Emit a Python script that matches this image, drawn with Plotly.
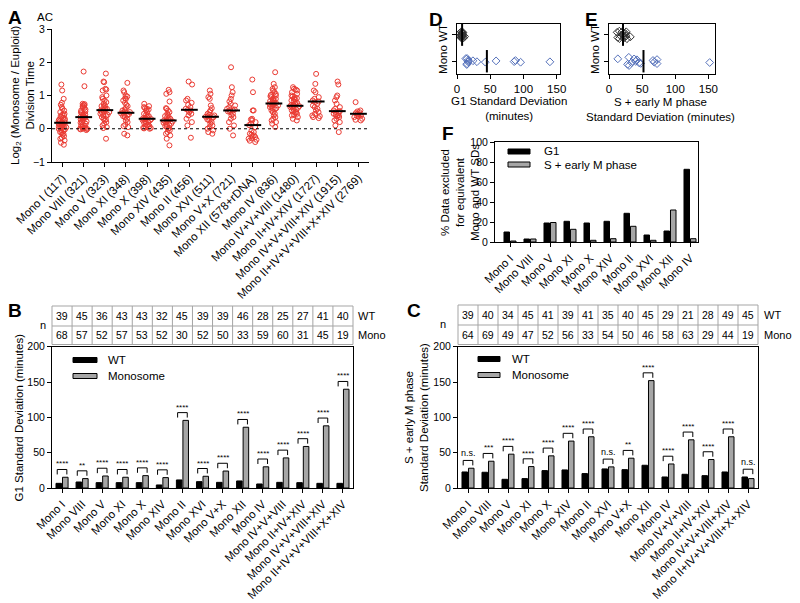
import numpy as np
import plotly.graph_objects as go

# ---------------- data ----------------
a_categories = ["Mono I (117)", "Mono VIII (321)", "Mono V (323)", "Mono XI (348)", "Mono X (398)",
                "Mono XIV (435)", "Mono II (456)", "Mono XVI (511)", "Mono V+X (721)",
                "Mono XII (578+rDNA)", "Mono IV (836)", "Mono IV+V+VIII (1480)",
                "Mono II+IV+XIV (1727)", "Mono IV+V+VIII+XIV (1915)", "Mono II+IV+V+VIII+X+XIV (2769)"]

mono_I = [1.33, 1.15, 0.9, 0.78, 0.72, 0.65, 0.6, 0.55, 0.5, 0.45, 0.42, 0.4, 0.38, 0.35, 0.33, 0.3,
          0.28, 0.26, 0.24, 0.22, 0.2, 0.19, 0.18, 0.17, 0.16, 0.15, 0.13, 0.12, 0.1, 0.08, 0.07, 0.05,
          0.04, 0.02, 0.0, -0.02, -0.04, -0.06, -0.1, -0.12, -0.15, -0.18, -0.22, -0.27, -0.3, -0.35,
          -0.42, -0.48]
mono_VIII = [1.72, 1.28, 0.75, 0.74, 0.72, 0.7, 0.68, 0.65, 0.62, 0.58, 0.55, 0.52, 0.5, 0.47, 0.45,
             0.42, 0.4, 0.38, 0.36, 0.35, 0.34, 0.33, 0.32, 0.3, 0.28, 0.25, 0.22, 0.2, 0.18, 0.15, 0.12,
             0.1, 0.08, 0.06, 0.04, 0.02, 0.01, 0.0, 0.0, -0.01, -0.02, -0.04]
mono_V = [1.66, 1.42, 1.4, 1.2, 1.18, 1.15, 1.0, 0.95, 0.9, 0.85, 0.8, 0.75, 0.7, 0.68, 0.65, 0.62,
          0.6, 0.58, 0.56, 0.55, 0.53, 0.5, 0.48, 0.45, 0.42, 0.4, 0.38, 0.35, 0.3, 0.28, 0.25, 0.2,
          0.15, 0.1, 0.05, 0.02, -0.3]
mono_XI = [1.38, 1.15, 1.1, 1.0, 0.97, 0.92, 0.9, 0.85, 0.78, 0.72, 0.68, 0.62, 0.58, 0.55, 0.52, 0.5,
           0.48, 0.46, 0.44, 0.42, 0.4, 0.38, 0.35, 0.3, 0.25, 0.2, 0.12, 0.08, 0.05, -0.15, -0.2]
mono_X = [0.75, 0.68, 0.65, 0.62, 0.6, 0.58, 0.55, 0.5, 0.45, 0.42, 0.4, 0.38, 0.35, 0.33, 0.31, 0.3,
          0.29, 0.28, 0.26, 0.25, 0.22, 0.2, 0.18, 0.15, 0.12, 0.1, 0.08, 0.05, 0.03, 0.02, 0.01, 0.0]
mono_XIV = [1.17, 1.1, 1.05, 0.82, 0.62, 0.6, 0.55, 0.5, 0.45, 0.4, 0.38, 0.35, 0.32, 0.3, 0.28, 0.26,
            0.25, 0.24, 0.22, 0.2, 0.18, 0.15, 0.12, 0.1, 0.08, 0.05, 0.02, 0.0, -0.05, -0.1, -0.15,
            -0.2, -0.3, -0.5]
mono_II = [1.42, 1.33, 0.9, 0.85, 0.78, 0.72, 0.65, 0.6, 0.57, 0.55, 0.5, 0.45, 0.4, 0.3, 0.2, 0.1, -0.27]
mono_XVI = [1.15, 1.05, 0.95, 0.9, 0.7, 0.62, 0.55, 0.5, 0.45, 0.42, 0.4, 0.38, 0.36, 0.35, 0.33, 0.3,
            0.28, 0.25, 0.2, 0.15, 0.1, 0.05, 0.0, -0.05, -0.1, -0.15]
mono_V_X = [1.85, 1.25, 1.1, 1.0, 0.9, 0.82, 0.75, 0.7, 0.65, 0.6, 0.58, 0.56, 0.55, 0.52, 0.5, 0.45,
            0.4, 0.35, 0.3, 0.2, 0.1, 0.0, -0.2]
mono_XII = [1.48, 1.1, 0.55, 0.55, 0.3, 0.28, 0.25, 0.2, 0.15, 0.11, 0.05, -0.05, -0.1, -0.15, -0.18,
            -0.2, -0.22, -0.25, -0.28, -0.3, -0.33, -0.36, -0.4]
mono_IV = [1.7, 1.35, 1.25, 1.2, 1.15, 1.1, 1.05, 1.02, 1.0, 0.98, 0.95, 0.92, 0.9, 0.88, 0.85, 0.83,
           0.8, 0.78, 0.77, 0.76, 0.75, 0.74, 0.72, 0.7, 0.68, 0.65, 0.62, 0.6, 0.58, 0.55, 0.5, 0.45,
           0.4, 0.35, 0.3, 0.25, 0.2, 0.15, 0.05]
mono_IV_V_VIII = [1.25, 1.2, 1.18, 1.15, 1.1, 1.05, 1.0, 0.97, 0.95, 0.92, 0.9, 0.88, 0.85, 0.82, 0.8,
                  0.78, 0.75, 0.72, 0.7, 0.69, 0.68, 0.66, 0.65, 0.63, 0.6, 0.58, 0.55, 0.52, 0.5, 0.48,
                  0.45, 0.42, 0.4, 0.35, 0.3, 0.25]
mono_II_IV_XIV = [1.65, 1.35, 1.15, 1.1, 0.95, 0.9, 0.85, 0.82, 0.8, 0.75, 0.7, 0.65, 0.6, 0.55, 0.5,
                  0.45, 0.4, 0.38, 0.35, 0.32]
mono_IV_V_VIII_XIV = [1.42, 1.33, 1.0, 0.95, 0.85, 0.75, 0.65, 0.6, 0.55, 0.53, 0.5, 0.47, 0.45, 0.42,
                      0.4, 0.38, 0.35, 0.3, 0.25, 0.2, 0.1, -0.1]
mono_II_IV_V_VIII_X_XIV = [0.8, 0.55, 0.52, 0.5, 0.47, 0.45, 0.43, 0.42, 0.4, 0.38, 0.35, 0.3, 0.27, 0.25]

a_values = [mono_I, mono_VIII, mono_V, mono_XI, mono_X, mono_XIV, mono_II, mono_XVI, mono_V_X,
            mono_XII, mono_IV, mono_IV_V_VIII, mono_II_IV_XIV, mono_IV_V_VIII_XIV, mono_II_IV_V_VIII_X_XIV]
a_centers = [0.18, 0.35, 0.56, 0.48, 0.30, 0.25, 0.57, 0.36, 0.55, 0.11, 0.76, 0.69, 0.82, 0.53, 0.45]
ac_counts = [0, 0, 0, 0, 0, 3, 2, 0, 0, 12, 4, 2, 2, 24, 8]

bc_categories = ["Mono I", "Mono VIII", "Mono V", "Mono XI", "Mono X", "Mono XIV", "Mono II",
                 "Mono XVI", "Mono V+X", "Mono XII", "Mono IV", "Mono IV+V+VIII", "Mono II+IV+XIV",
                 "Mono IV+V+VIII+XIV", "Mono II+IV+V+VIII+X+XIV"]
b_wt_sd = [6.6, 8.5, 7.6, 7.6, 7.6, 4.3, 11.4, 9.0, 8.0, 10.0, 5.7, 8.0, 7.6, 6.6, 6.6]
b_mono_sd = [15.2, 13.3, 17.0, 15.2, 17.5, 14.7, 95.7, 16.6, 24.0, 86.0, 30.0, 42.6, 58.8, 88.0, 139.8]
b_sig = ["****", "**", "****", "****", "****", "****", "****", "****", "****", "****", "****",
         "****", "****", "****", "****"]
b_n_wt = [39, 45, 36, 43, 43, 32, 45, 39, 39, 46, 28, 25, 27, 41, 40]
b_n_mono = [68, 57, 52, 57, 53, 52, 30, 52, 50, 33, 59, 60, 31, 45, 19]

c_wt_sd = [22.7, 22.3, 12.3, 13.3, 24.6, 25.6, 20.4, 27.0, 26.0, 32.2, 15.6, 19.4, 17.5, 22.7, 15.6]
c_mono_sd = [28.0, 37.9, 47.9, 30.3, 45.5, 66.4, 72.5, 29.9, 42.2, 152.0, 34.0, 68.2, 40.3, 72.5, 13.3]
c_sig = ["n.s.", "***", "****", "****", "****", "****", "****", "n.s.", "**", "****", "****",
         "****", "****", "****", "n.s."]
c_n_wt = [39, 40, 34, 45, 41, 39, 41, 35, 40, 45, 29, 21, 28, 49, 45]
c_n_mono = [64, 69, 49, 47, 52, 56, 33, 54, 50, 46, 58, 63, 29, 44, 19]

f_categories = ["Mono I", "Mono VIII", "Mono V", "Mono XI", "Mono X", "Mono XIV", "Mono II",
                "Mono XVI", "Mono XII", "Mono IV"]
f_g1 = [10.0, 3.0, 19.0, 20.7, 19.0, 20.7, 28.7, 7.0, 11.0, 72.7]
f_sm = [1.0, 3.0, 19.5, 12.7, 1.7, 3.3, 15.7, 1.7, 32.0, 3.3]

# ---------------- style / layout helpers ----------------
W, H = 800, 603
OFF = 8  # the page body margin shifts the whole figure by 8 px
FONT = "Arial, Liberation Sans, sans-serif"
RED = "rgb(234,58,50)"
GREY = "rgb(166,166,166)"
BLUE = "rgb(84,112,186)"
DARK = "rgb(50,50,50)"
TLINE = "rgb(165,165,165)"


def px(p):
    return (p - OFF) / W


def py(p):
    return 1 - (p - OFF) / H


dom = {
    "A": ([px(52), px(369)], [py(162), py(29)]),
    "D": ([px(457), px(560)], [py(74), py(24)]),
    "E": ([px(609), px(715)], [py(74), py(24)]),
    "F": ([px(495), px(698)], [py(242), py(142)]),
    "B": ([px(52), px(353)], [py(488), py(346.7)]),
    "C": ([px(458), px(758)], [py(488), py(346.7)]),
}


def ax(**kw):
    base = dict(showline=True, linecolor="black", linewidth=1, ticks="outside", ticklen=4,
                tickwidth=1, tickcolor="black", showgrid=False, zeroline=False, automargin=False,
                tickfont=dict(family=FONT, size=10.5, color="black"))
    base.update(kw)
    return base


fig = go.Figure()

# ---------------- Panel A ----------------
a_pos = list(range(len(a_categories)))
for i, vals in enumerate(a_values):
    fig.add_trace(go.Box(x=[a_pos[i]] * len(vals), y=vals, xaxis="x", yaxis="y",
                         boxpoints="all", jitter=0.95, pointpos=0,
                         fillcolor="rgba(0,0,0,0)", line=dict(color="rgba(0,0,0,0)", width=0),
                         marker=dict(symbol="circle-open", size=5, color=RED,
                                     line=dict(width=1, color=RED)),
                         showlegend=False, hoverinfo="y"))
fig.add_trace(go.Scatter(x=a_pos, y=a_centers, xaxis="x", yaxis="y", mode="markers",
                         marker=dict(symbol="line-ew", size=12, line=dict(width=2, color="black")),
                         showlegend=False, hoverinfo="skip"))
# AC counts drawn as little grids of grey circles above the panel
ac_x, ac_y = [], []
dx, dy, base_y = 0.15, 0.096, 3.33
for i, n in enumerate(ac_counts):
    if n == 0:
        continue
    rows = int(np.ceil(n / 4))
    for j in range(n):
        r, c = divmod(j, 4)
        in_row = min(4, n - r * 4)
        ac_x.append(a_pos[i] + (c - (in_row - 1) / 2) * dx)
        ac_y.append(base_y + (r - (rows - 1) / 2) * dy)
fig.add_trace(go.Scatter(x=ac_x, y=ac_y, xaxis="x", yaxis="y", mode="markers", cliponaxis=False,
                         marker=dict(symbol="circle-open", size=4, color="rgb(120,120,120)",
                                     line=dict(width=1, color="rgb(120,120,120)")),
                         showlegend=False, hoverinfo="skip"))

# ---------------- Panels D & E ----------------
for xa, ya, wt, mono in (("x2", "y2", b_wt_sd, b_mono_sd), ("x3", "y3", c_wt_sd, c_mono_sd)):
    fig.add_trace(go.Box(x=wt, y=[1] * len(wt), orientation="h", xaxis=xa, yaxis=ya,
                         boxpoints="all", jitter=0.8, pointpos=0,
                         fillcolor="rgba(0,0,0,0)", line=dict(color="rgba(0,0,0,0)", width=0),
                         marker=dict(symbol="diamond-open", size=6, color=DARK,
                                     line=dict(width=1, color=DARK)),
                         showlegend=False, hoverinfo="x"))
    fig.add_trace(go.Box(x=mono, y=[0] * len(mono), orientation="h", xaxis=xa, yaxis=ya,
                         boxpoints="all", jitter=0.8, pointpos=0,
                         fillcolor="rgba(0,0,0,0)", line=dict(color="rgba(0,0,0,0)", width=0),
                         marker=dict(symbol="diamond-open", size=6, color=BLUE,
                                     line=dict(width=1, color=BLUE)),
                         showlegend=False, hoverinfo="x"))
    fig.add_trace(go.Scatter(x=[np.mean(wt), np.mean(mono)], y=[1, 0], xaxis=xa, yaxis=ya,
                             mode="markers",
                             marker=dict(symbol="line-ns", size=16, line=dict(width=2, color="black")),
                             showlegend=False, hoverinfo="skip"))

# ---------------- Panel F ----------------
f_pos = list(range(len(f_categories)))
fig.add_trace(go.Bar(x=f_pos, y=f_g1, xaxis="x4", yaxis="y4", marker=dict(color="black",
                     line=dict(color="black", width=1)), showlegend=False))
fig.add_trace(go.Bar(x=f_pos, y=f_sm, xaxis="x4", yaxis="y4", marker=dict(color=GREY,
                     line=dict(color="black", width=1)), showlegend=False))

# ---------------- Panels B & C ----------------
bc_pos = list(range(len(bc_categories)))
for xa, ya, wt, mono, sig in (("x5", "y5", b_wt_sd, b_mono_sd, b_sig),
                              ("x6", "y6", c_wt_sd, c_mono_sd, c_sig)):
    fig.add_trace(go.Bar(x=bc_pos, y=wt, xaxis=xa, yaxis=ya, marker=dict(color="black",
                         line=dict(color="black", width=1)), showlegend=False))
    fig.add_trace(go.Bar(x=bc_pos, y=mono, xaxis=xa, yaxis=ya, marker=dict(color=GREY,
                         line=dict(color="black", width=1)), showlegend=False))
    bx, by = [], []
    for i in bc_pos:
        top = max(wt[i], mono[i]) + 11
        bx += [i - 0.24, i - 0.24, i + 0.24, i + 0.24, None]
        by += [top - 7, top, top, top - 7, None]
        fig.add_annotation(x=i, y=top, xref=xa, yref=ya, text=sig[i], showarrow=False,
                           xanchor="center", yanchor="bottom",
                           yshift=-1 if sig[i] != "n.s." else 0,
                           font=dict(family=FONT, size=8 if sig[i] != "n.s." else 9, color="black"))
    fig.add_trace(go.Scatter(x=bx, y=by, xaxis=xa, yaxis=ya, mode="lines",
                             line=dict(color="black", width=1), showlegend=False, hoverinfo="skip"))


# ---------------- tables ----------------
def add_table(d, xref, wt_n, mono_n, top, mid, bot, lab_x, n_x):
    left, right = d
    n = len(wt_n)
    lw = dict(color=TLINE, width=1)
    fig.add_shape(type="rect", xref="paper", yref="paper", x0=left, x1=right, y0=py(bot), y1=py(top),
                  line=lw)
    fig.add_shape(type="line", xref="paper", yref="paper", x0=left, x1=right, y0=py(mid), y1=py(mid),
                  line=lw)
    for k in range(1, n):
        xk = left + k / n * (right - left)
        fig.add_shape(type="line", xref="paper", yref="paper", x0=xk, x1=xk, y0=py(bot), y1=py(top),
                      line=lw)
    tf = dict(family=FONT, size=10.5, color="black")
    for i in range(n):
        fig.add_annotation(x=i, y=py((top + mid) / 2), xref=xref, yref="paper", text=str(wt_n[i]),
                           showarrow=False, xanchor="center", yanchor="middle", font=tf)
        fig.add_annotation(x=i, y=py((mid + bot) / 2), xref=xref, yref="paper", text=str(mono_n[i]),
                           showarrow=False, xanchor="center", yanchor="middle", font=tf)
    lf = dict(family=FONT, size=11, color="black")
    fig.add_annotation(x=px(lab_x), y=py((top + mid) / 2), xref="paper", yref="paper", text="WT",
                       showarrow=False, xanchor="left", yanchor="middle", font=lf)
    fig.add_annotation(x=px(lab_x), y=py((mid + bot) / 2), xref="paper", yref="paper", text="Mono",
                       showarrow=False, xanchor="left", yanchor="middle", font=lf)
    fig.add_annotation(x=px(n_x), y=py(mid - 1), xref="paper", yref="paper", text="n",
                       showarrow=False, xanchor="center", yanchor="middle", font=lf)


add_table(dom["B"][0], "x5", b_n_wt, b_n_mono, 306, 326, 344.5, 356, 43)
add_table(dom["C"][0], "x6", c_n_wt, c_n_mono, 305, 325, 344.5, 762, 443)


# ---------------- custom legends ----------------
def legend_item(x0, x1, yc, color, label, tx):
    fig.add_shape(type="rect", xref="paper", yref="paper", x0=px(x0), x1=px(x1),
                  y0=py(yc + 2.5), y1=py(yc - 2.5), fillcolor=color,
                  line=dict(color="black", width=1))
    fig.add_annotation(x=px(tx), y=py(yc), xref="paper", yref="paper", text=label, showarrow=False,
                       xanchor="left", yanchor="middle", font=dict(family=FONT, size=11.5, color="black"))


legend_item(73, 97, 360, "black", "WT", 106)
legend_item(73, 97, 376, GREY, "Monosome", 106)
legend_item(478, 500, 359, "black", "WT", 510)
legend_item(478, 500, 375, GREY, "Monosome", 510)
legend_item(508, 530, 151.5, "black", "G1", 542)
legend_item(508, 530, 164.5, GREY, "S + early M phase", 542)

# dotted zero line in A
fig.add_shape(type="line", xref="x domain", yref="y", x0=0, x1=1, y0=0, y1=0,
              line=dict(color="black", width=1, dash="dot"))


# ---------------- text annotations ----------------
def txt(x, y, text, size=11.5, angle=0, **kw):
    fig.add_annotation(x=px(x), y=py(y), xref="paper", yref="paper", text=text, showarrow=False,
                       xanchor="center", yanchor="middle", textangle=angle,
                       font=dict(family=FONT, size=size, color="black"), **kw)


for letter, (x, y) in {"A": (15, 17), "D": (436, 19), "E": (591, 19), "F": (448, 134),
                       "B": (15, 310), "C": (414, 310)}.items():
    txt(x, y, "<b>" + letter + "</b>", size=19)
txt(45, 17, "AC", size=11.5)
txt(22.5, 95.5, "Log<sub>2</sub> (Monosome / Euploid)<br>Division Time", size=11.5, angle=-90)
txt(508.5, 108, "G1 Standard Deviation<br>(minutes)", size=11.5)
txt(660, 109.5, "S + early M phase<br>Standard Deviation (minutes)", size=11.5)
txt(460, 192, "% Data excluded<br>for equivalent<br>Mono and WT SDs", size=11.5, angle=-90)
txt(18, 417.5, "G1 Standard Deviation (minutes)", size=11.5, angle=-90)
txt(416.5, 417.5, "S + early M phase<br>Standard Deviation (minutes)", size=11.5, angle=-90)

catfont = dict(family=FONT, size=11.5, color="black")
fig.update_layout(
    template="none",
    width=W, height=H, margin=dict(l=0, r=0, t=0, b=0, pad=0, autoexpand=False),
    paper_bgcolor="white", plot_bgcolor="white", showlegend=False,
    barmode="group", bargap=0.35, bargroupgap=0.15,
    xaxis=ax(domain=dom["A"][0], anchor="y", range=[-0.5, 14.5], tickvals=a_pos,
             ticktext=a_categories, tickangle=-45, tickfont=catfont),
    yaxis=ax(domain=dom["A"][1], anchor="x", range=[-1, 3], tickvals=[-1, 0, 1, 2, 3]),
    xaxis2=ax(domain=dom["D"][0], anchor="y2", range=[0, 155], tickvals=[0, 50, 100, 150],
              mirror=True, tickfont=dict(family=FONT, size=11.5, color="black")),
    yaxis2=ax(domain=dom["D"][1], anchor="x2", range=[-0.48, 1.4], tickvals=[0, 1],
              ticktext=["Mono", "WT"], tickangle=-90, mirror=True,
              tickfont=dict(family=FONT, size=11.5, color="black")),
    xaxis3=ax(domain=dom["E"][0], anchor="y3", range=[0, 160], tickvals=[0, 50, 100, 150],
              mirror=True, tickfont=dict(family=FONT, size=11.5, color="black")),
    yaxis3=ax(domain=dom["E"][1], anchor="x3", range=[-0.48, 1.4], tickvals=[0, 1],
              ticktext=["Mono", "WT"], tickangle=-90, mirror=True,
              tickfont=dict(family=FONT, size=11.5, color="black")),
    xaxis4=ax(domain=dom["F"][0], anchor="y4", range=[-0.75, 9.4], tickvals=f_pos,
              ticktext=f_categories, tickangle=-45, mirror=True, tickfont=catfont),
    yaxis4=ax(domain=dom["F"][1], anchor="x4", range=[0, 100], tickvals=[0, 20, 40, 60, 80, 100],
              mirror=True),
    xaxis5=ax(domain=dom["B"][0], anchor="y5", range=[-0.5, 14.5], tickvals=bc_pos,
              ticktext=bc_categories, tickangle=-45, mirror=True, tickfont=catfont),
    yaxis5=ax(domain=dom["B"][1], anchor="x5", range=[0, 200], tickvals=[0, 50, 100, 150, 200],
              mirror=True),
    xaxis6=ax(domain=dom["C"][0], anchor="y6", range=[-0.5, 14.5], tickvals=bc_pos,
              ticktext=bc_categories, tickangle=-45, mirror=True, tickfont=catfont),
    yaxis6=ax(domain=dom["C"][1], anchor="x6", range=[0, 200], tickvals=[0, 50, 100, 150, 200],
              mirror=True),
)

fig.write_html("out.html")
